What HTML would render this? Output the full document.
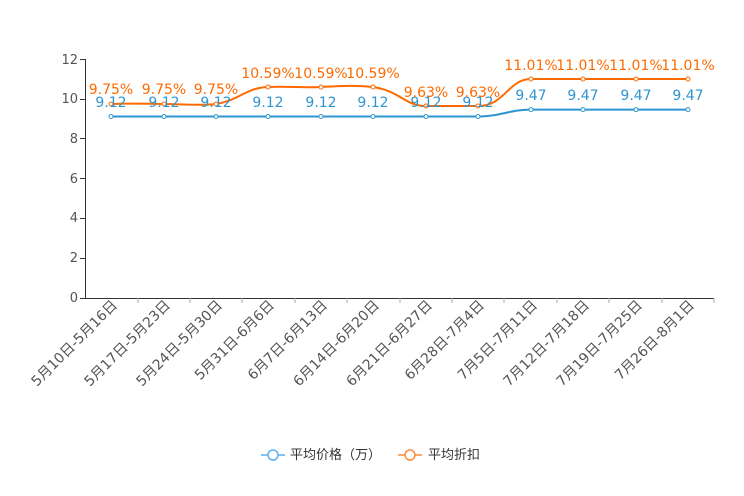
<!DOCTYPE html>
<html><head><meta charset="utf-8"><style>body{margin:0;background:#fff}svg{display:block}text{font-family:"DejaVu Sans","Noto Sans CJK SC",sans-serif}</style></head><body>
<svg width="744" height="496" viewBox="0 0 744 496">
<g font-size="13" fill="#555" text-anchor="end">
<text x="78" y="302">0</text><text x="78" y="262">2</text><text x="78" y="222">4</text><text x="78" y="183">6</text><text x="78" y="143">8</text><text x="78" y="103">10</text><text x="78" y="64">12</text>
</g>
<g stroke="#333" stroke-width="1">
<line x1="85.5" y1="59" x2="85.5" y2="298"/><line x1="80" y1="298.5" x2="714" y2="298.5"/>
<line x1="80" y1="258.5" x2="85" y2="258.5"/><line x1="80" y1="218.5" x2="85" y2="218.5"/><line x1="80" y1="178.5" x2="85" y2="178.5"/><line x1="80" y1="138.5" x2="85" y2="138.5"/><line x1="80" y1="99.5" x2="85" y2="99.5"/><line x1="80" y1="59.5" x2="85" y2="59.5"/>
</g>
<g stroke="#aaa"><line x1="138" y1="298" x2="138" y2="303"/><line x1="190" y1="298" x2="190" y2="303"/><line x1="242" y1="298" x2="242" y2="303"/><line x1="295" y1="298" x2="295" y2="303"/><line x1="347" y1="298" x2="347" y2="303"/><line x1="400" y1="298" x2="400" y2="303"/><line x1="452" y1="298" x2="452" y2="303"/><line x1="504" y1="298" x2="504" y2="303"/><line x1="557" y1="298" x2="557" y2="303"/><line x1="609" y1="298" x2="609" y2="303"/><line x1="662" y1="298" x2="662" y2="303"/><line x1="714" y1="298" x2="714" y2="303"/></g>
<g font-size="14" fill="#555" text-anchor="end">
<text transform="translate(118,306) rotate(-45)">5月10日-5月16日</text>
<text transform="translate(171,306) rotate(-45)">5月17日-5月23日</text>
<text transform="translate(223,306) rotate(-45)">5月24日-5月30日</text>
<text transform="translate(275,306) rotate(-45)">5月31日-6月6日</text>
<text transform="translate(328,306) rotate(-45)">6月7日-6月13日</text>
<text transform="translate(380,306) rotate(-45)">6月14日-6月20日</text>
<text transform="translate(433,306) rotate(-45)">6月21日-6月27日</text>
<text transform="translate(485,306) rotate(-45)">6月28日-7月4日</text>
<text transform="translate(538,306) rotate(-45)">7月5日-7月11日</text>
<text transform="translate(590,306) rotate(-45)">7月12日-7月18日</text>
<text transform="translate(643,306) rotate(-45)">7月19日-7月25日</text>
<text transform="translate(695,306) rotate(-45)">7月26日-8月1日</text>
</g>
<path d="M111,116.5 L478,116.5 C500,116.5 510,109.6 531,109.6 L688,109.6" fill="none" stroke="#2f95d0" stroke-width="2"/>
<path d="M111,104 C140,103 150,104 164,104 C180,104 195,106 216,104 C240,100 245,88 268,87 C290,86 300,88 321,87 C340,86 355,85 373,87 C400,91 405,106 426,106 L478,106 C505,106 508,79 531,79 L688,79" fill="none" stroke="#ff6a00" stroke-width="2"/>
<g fill="#fff" stroke="#2f95d0" stroke-width="1"><circle cx="111" cy="116.5" r="2"/><circle cx="164" cy="116.5" r="2"/><circle cx="216" cy="116.5" r="2"/><circle cx="268" cy="116.5" r="2"/><circle cx="321" cy="116.5" r="2"/><circle cx="373" cy="116.5" r="2"/><circle cx="426" cy="116.5" r="2"/><circle cx="478" cy="116.5" r="2"/><circle cx="531" cy="109.6" r="2"/><circle cx="583" cy="109.6" r="2"/><circle cx="636" cy="109.6" r="2"/><circle cx="688" cy="109.6" r="2"/></g>
<g fill="#fff" stroke="#ff6a00" stroke-width="1"><circle cx="111" cy="104" r="2"/><circle cx="164" cy="104" r="2"/><circle cx="216" cy="104" r="2"/><circle cx="268" cy="87" r="2"/><circle cx="321" cy="87" r="2"/><circle cx="373" cy="87" r="2"/><circle cx="426" cy="106" r="2"/><circle cx="478" cy="106" r="2"/><circle cx="531" cy="79" r="2"/><circle cx="583" cy="79" r="2"/><circle cx="636" cy="79" r="2"/><circle cx="688" cy="79" r="2"/></g>
<g font-size="14" fill="#2f95d0" text-anchor="middle">
<text x="111" y="107">9.12</text><text x="164" y="107">9.12</text><text x="216" y="107">9.12</text><text x="268" y="107">9.12</text><text x="321" y="107">9.12</text><text x="373" y="107">9.12</text><text x="426" y="107">9.12</text><text x="478" y="107">9.12</text><text x="531" y="100">9.47</text><text x="583" y="100">9.47</text><text x="636" y="100">9.47</text><text x="688" y="100">9.47</text>
</g>
<g font-size="14" fill="#ff6a00" text-anchor="middle">
<text x="111" y="94">9.75%</text><text x="164" y="94">9.75%</text><text x="216" y="94">9.75%</text><text x="268" y="78">10.59%</text><text x="321" y="78">10.59%</text><text x="373" y="78">10.59%</text><text x="426" y="97">9.63%</text><text x="478" y="97">9.63%</text><text x="531" y="70">11.01%</text><text x="583" y="70">11.01%</text><text x="636" y="70">11.01%</text><text x="688" y="70">11.01%</text>
</g>
<g font-size="13" fill="#333">
<line x1="261" y1="455" x2="285" y2="455" stroke="#5ab1ef" stroke-width="1.5"/><circle cx="273" cy="455" r="5" fill="#fff" stroke="#5ab1ef" stroke-width="1.5"/>
<text x="290" y="459">平均价格（万）</text>
<line x1="398" y1="455" x2="422" y2="455" stroke="#ff8c3a" stroke-width="1.5"/><circle cx="410" cy="455" r="5" fill="#fff" stroke="#ff8c3a" stroke-width="1.5"/>
<text x="428" y="459">平均折扣</text>
</g>
</svg>
</body></html>
